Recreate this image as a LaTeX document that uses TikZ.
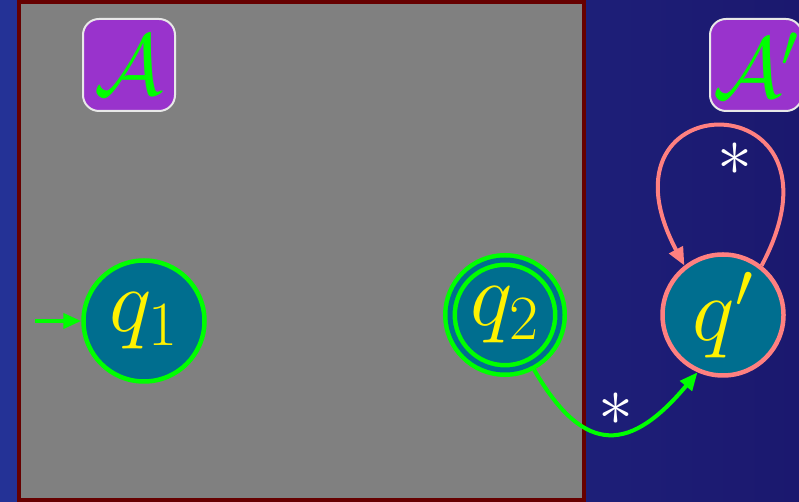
\RequirePackage{fix-cm}
\documentclass[tikz,border=0pt]{standalone}
\usetikzlibrary{positioning, arrows.meta}
\definecolor{bgleft}{RGB}{36,50,150}
\definecolor{bgright}{RGB}{27,24,110}
\definecolor{panelgray}{RGB}{128,128,128}
\definecolor{panelrim}{RGB}{102,0,0}
\definecolor{autpurple}{RGB}{153,51,204}
\definecolor{boxrim}{RGB}{232,232,232}
\definecolor{statefill}{RGB}{0,110,143}
\definecolor{salmon}{RGB}{255,128,128}
\tikzset{
  autbox/.style={rectangle, rounded corners=16pt, draw=boxrim, fill=autpurple,
                 line width=2pt, minimum size=92pt, inner sep=0pt,
                 text=green, font=\fontsize{86}{90}\selectfont},
  qstate/.style={circle, draw=green, fill=statefill, line width=4.5pt,
                 minimum size=121pt, inner sep=0pt,
                 text=yellow, font=\fontsize{90}{96}\selectfont},
  finalstate/.style={qstate, line width=4.5pt, double=statefill, double distance=5pt,
                     minimum size=110pt, outer sep=7pt},
  otherstate/.style={qstate, draw=salmon},
  starlbl/.style={text=white, inner sep=0pt, font=\fontsize{70}{72}\selectfont},
  garr/.style={-{Triangle[length=18pt,width=15pt]}, line width=4pt, color=green},
  sarr/.style={-{Triangle[length=18pt,width=15pt]}, line width=4pt, color=salmon},
}
\begin{document}
\begin{tikzpicture}[x=1pt, y=1pt]
  \fill[left color=bgleft, right color=bgright] (0,0) rectangle (799,502);
  \useasboundingbox (0,0) rectangle (799,502);
  \draw[fill=panelgray, draw=panelrim, line width=4pt] (19,2) rectangle (584,500);

  \node[autbox] (autA) at (129,437) {$\mathcal{A}$};
  \node[autbox] (autAp) at (756,437) {$\mathcal{A}'$};

  \node[qstate] (q1) at (144,181) {$q_1$};
  \node[finalstate] (q2) at (505,187) {$q_2$};
  \node[otherstate] (qp) at (723,187) {$q'$};

  \coordinate (q1in) at (35,181);
  \draw[garr] (q1in) -- (q1);
  \draw[garr] (q2.-62) to[out=-60, in=-130, looseness=1.6]
      node[starlbl, pos=0.5, above right=6pt and -14pt] {$*$} (qp.-114);
  \draw[sarr] (qp.52) to[out=62, in=118, distance=210pt]
      node[starlbl, pos=0.5, below=14pt, xshift=12pt] {$*$} (qp.128);
\end{tikzpicture}
\end{document}
